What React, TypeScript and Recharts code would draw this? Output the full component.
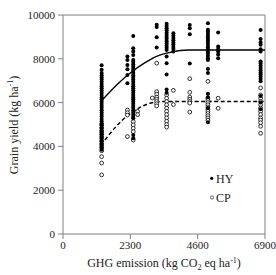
import React from "react";
import {
  ComposedChart,
  Scatter,
  Line,
  XAxis,
  YAxis,
  ReferenceLine,
} from "recharts";

// ---- tick labels ----
const xTicks = [0, 2300, 4600, 6900];
const yTicks = [0, 2000, 4000, 6000, 8000, 10000];

// ---- HY (filled) grain yield by emission column ----
const hyX1 = 1320;
const hyY1 = [7700, 7500, 7350, 7250, 7150, 7050, 6950, 6850, 6750, 6650, 6550, 6450, 6350, 6250, 6150, 6050, 5950, 5850, 5750, 5650, 5550, 5450, 5350, 5250, 5150, 5050, 4950, 4850, 4750, 4650, 4550, 4450, 4350, 4250, 4150, 4050, 3950, 3850];
const hyX2a = 2200;
const hyY2a = [8100, 7950, 7720, 7520, 7260, 6880];
const hyX2b = 2400;
const hyY2b = [9040, 8480, 8330, 8170, 7950, 7850, 7750, 7650, 7550, 7450, 7350, 7250, 7150, 7050, 6950, 6850, 6750, 6650, 6550, 6450, 6350, 6250, 6150, 6050, 5950, 5850, 5750, 5650, 5550, 5450, 5350, 5280, 4520, 4370];
const hyX3 = 3200;
const hyY3 = [9550, 9450, 8980, 8520];
const hyX4a = 3540;
const hyY4a = [9600, 9500, 9400, 9300, 9200, 9100, 9000, 8900, 8800, 8700, 8600, 8500, 8400, 8100, 7800, 7280, 6600, 6450];
const hyX4b = 3770;
const hyY4b = [9170, 9050, 8950, 8850, 8750, 8650, 8550, 8450, 8330];
const hyX5 = 4330;
const hyY5 = [9540, 9400, 9120, 7790];
const hyX6 = 4950;
const hyY6 = [9620, 9330, 9230, 9130, 9030, 8930, 8830, 8730, 8630, 8530, 8430, 8330, 8230, 8130, 8030, 7950, 7530, 7350, 6400, 6250, 5750, 5100];
const hyX7 = 5300;
const hyY7 = [9200, 8560, 8440, 8330, 8200, 8020];
const hyX8 = 6750;
const hyY8 = [9320, 8900, 8750, 8640, 8440, 8330, 7880, 7780, 7680, 7580, 7480, 7380, 7280, 7180, 7080, 6970, 6300, 6000, 5700];

// ---- CP (open) grain yield by emission column ----
const cpX1 = 1320;
const cpY1 = [2700, 3240, 3530, 3800, 3950, 4100, 4250, 4400, 4550, 4700, 4850, 5000];
const cpX2a = 2200;
const cpY2a = [5660, 5540, 5430, 4450];
const cpX2b = 2400;
const cpY2b = [5130, 4980, 4830, 4670, 4290];
const cpX2c = 2550;
const cpY2c = [5600, 5450];
const cpX3a = 3050;
const cpY3a = [6210];
const cpX3 = 3200;
const cpY3 = [7800, 6500, 6380, 6250, 6150, 6050, 5950, 5850];
const cpX4a = 3540;
const cpY4a = [6350, 6200, 6050, 5900, 5750, 5600, 5450, 5300, 5150, 5000, 4880];
const cpX4b = 3770;
const cpY4b = [6560, 5910];
const cpX5 = 4330;
const cpY5 = [7090, 6470, 6250, 6150, 6050, 5980, 5570];
const cpX6 = 4950;
const cpY6 = [6970, 6200, 6100, 6000, 5900, 5800, 5700, 5600, 5500, 5400, 5300, 5200];
const cpX7 = 5300;
const cpY7 = [6200, 5740];
const cpX8 = 6750;
const cpY8 = [6670, 6350, 6200, 6050, 5900, 5750, 5600, 5450, 5300, 5200, 5080, 4920, 4600];

// ---- fitted curves ----
const hyFitX = [1340, 1850, 2350, 2750, 3140, 3550, 4000, 4300, 6900];
const hyFitY = [6120, 6830, 7410, 7780, 8080, 8260, 8380, 8400, 8400];
const cpFitX = [1430, 1800, 2230, 2600, 3000, 3390, 6900];
const cpFitY = [4290, 4890, 5430, 5760, 5980, 6050, 6050];

const col = (x: number, ys: number[]) => ys.map((y) => ({ x, y }));

const hyData = [
  ...col(hyX1, hyY1), ...col(hyX2a, hyY2a), ...col(hyX2b, hyY2b), ...col(hyX3, hyY3),
  ...col(hyX4a, hyY4a), ...col(hyX4b, hyY4b), ...col(hyX5, hyY5), ...col(hyX6, hyY6),
  ...col(hyX7, hyY7), ...col(hyX8, hyY8),
];
const cpData = [
  ...col(cpX1, cpY1), ...col(cpX2a, cpY2a), ...col(cpX2b, cpY2b), ...col(cpX2c, cpY2c),
  ...col(cpX3a, cpY3a), ...col(cpX3, cpY3), ...col(cpX4a, cpY4a), ...col(cpX4b, cpY4b),
  ...col(cpX5, cpY5), ...col(cpX6, cpY6), ...col(cpX7, cpY7), ...col(cpX8, cpY8),
];
const hyFit = hyFitX.map((x, i) => ({ x, y: hyFitY[i] }));
const cpFit = cpFitX.map((x, i) => ({ x, y: cpFitY[i] }));

const FONT = "Liberation Serif, serif";
const AXIS = "#808080";
const TEXT = "#222";

const FilledDot = (p: any) => <circle cx={p.cx} cy={p.cy} r={2} fill="#000" />;
const OpenDot = (p: any) => (
  <circle cx={p.cx} cy={p.cy} r={1.9} fill="#fff" stroke="#000" strokeWidth={0.8} />
);

const XLabel = (props: any) => {
  const vb = props.viewBox || {};
  const cx = vb.x + vb.width / 2;
  const y = vb.y + 33;
  return (
    <g style={{ fontFamily: FONT }}>
      <text x={cx} y={y} textAnchor="middle" fontFamily={FONT} fontSize={12} fill={TEXT}>
        GHG emission (kg CO
        <tspan fontSize={8} dy={3}>2</tspan>
        <tspan dy={-3}> eq ha</tspan>
        <tspan fontSize={8} dy={-4}>-1</tspan>
        <tspan dy={4}>)</tspan>
      </text>
      {/* legend */}
      <circle cx={211.7} cy={178.3} r={1.6} fill="#000" />
      <text x={216} y={182.7} fontFamily={FONT} fontSize={12} fill={TEXT}>HY</text>
      <circle cx={212} cy={197.5} r={1.6} fill="#fff" stroke="#000" strokeWidth={0.6} />
      <text x={216} y={201.7} fontFamily={FONT} fontSize={12} fill={TEXT}>CP</text>
    </g>
  );
};

const YLabel = () => {
  const cx = 14;
  const cy = 125;
  return (
    <text
      x={cx}
      y={cy}
      transform={`rotate(-90 ${cx} ${cy})`}
      textAnchor="middle"
      dominantBaseline="central"
      fontFamily={FONT}
      style={{ fontFamily: FONT }}
      fontSize={12}
      fill={TEXT}
    >
      Grain yield (kg ha
      <tspan fontSize={8} dy={-4}>-1</tspan>
      <tspan dy={4}>)</tspan>
    </text>
  );
};

export default function App() {
  return (
    <div style={{ position: "absolute", left: 0, top: 0, fontFamily: FONT }}>
      <ComposedChart
        width={276}
        height={275}
        margin={{ top: 15, right: 11, bottom: 0, left: 0 }}
        style={{ fontFamily: FONT }}
      >
        <XAxis
          type="number"
          dataKey="x"
          domain={[0, 6900]}
          ticks={xTicks}
          interval={0}
          height={41}
          stroke={AXIS}
          tickSize={5}
          tickMargin={2}
          tick={{ fontFamily: FONT, fontSize: 11, fill: TEXT, style: { fontFamily: FONT } }}
          label={<XLabel />}
          allowDataOverflow
        />
        <YAxis
          type="number"
          dataKey="y"
          domain={[0, 10000]}
          ticks={yTicks}
          interval={0}
          width={63}
          stroke={AXIS}
          tickSize={5}
          tickMargin={3}
          tick={{ fontFamily: FONT, fontSize: 11, fill: TEXT, style: { fontFamily: FONT } }}
          label={<YLabel />}
          allowDataOverflow
        />
        <ReferenceLine y={10000} stroke={AXIS} />
        <ReferenceLine x={6900} stroke={AXIS} />
        <Scatter data={cpData} dataKey="y" shape={<OpenDot />} isAnimationActive={false} />
        <Scatter data={hyData} dataKey="y" shape={<FilledDot />} isAnimationActive={false} />
        <Line
          data={cpFit}
          dataKey="y"
          type="monotone"
          stroke="#000"
          strokeWidth={1.4}
          strokeDasharray="4 2.5"
          dot={false}
          activeDot={false}
          isAnimationActive={false}
        />
        <Line
          data={hyFit}
          dataKey="y"
          type="monotone"
          stroke="#000"
          strokeWidth={1.4}
          dot={false}
          activeDot={false}
          isAnimationActive={false}
        />
      </ComposedChart>
    </div>
  );
}
